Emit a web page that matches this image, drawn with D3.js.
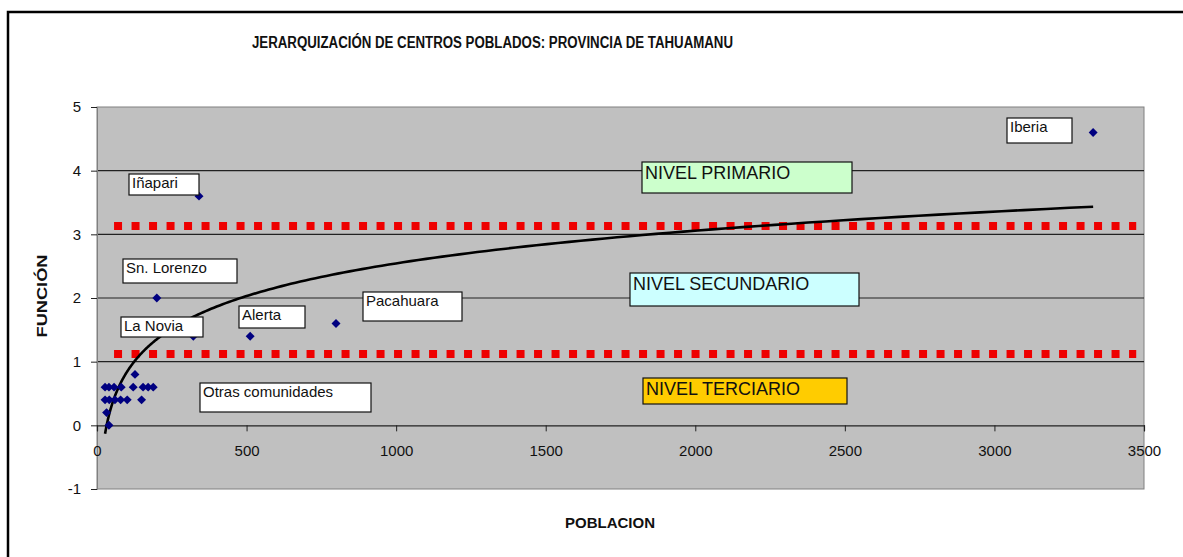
<!DOCTYPE html>
<html>
<head>
<meta charset="utf-8">
<script src="https://cdn.jsdelivr.net/npm/d3@7"></script>
<style>
  html, body { margin: 0; padding: 0; background: #fff; overflow: hidden; }
  svg { display: block; }
  text { font-family: Arial, "Liberation Sans", sans-serif; }
</style>
</head>
<body>
<svg id="chart" width="1183" height="557"></svg>
<script>
// ---------------- DATA ----------------
const title = "JERARQUIZACIÓN DE CENTROS POBLADOS: PROVINCIA DE TAHUAMANU";
const xTitle = "POBLACION";
const yTitle = "FUNCIÓN";
const xTicks = [0, 500, 1000, 1500, 2000, 2500, 3000, 3500];
const yTicks = [-1, 0, 1, 2, 3, 4, 5];

// Named population centres (population, function score)
const namedNames = ["Iberia", "Iñapari", "Sn. Lorenzo", "La Novia", "Alerta", "Pacahuara"];
const namedPob   = [3330, 341, 200, 322, 512, 799];
const namedFun   = [4.6, 3.6, 2.0, 1.4, 1.4, 1.6];

// Other communities
const otrasPob = [127, 27, 40, 57, 81, 121, 154, 171, 188, 27, 41, 60, 79, 101, 149, 32, 40];
const otrasFun = [0.8, 0.6, 0.6, 0.6, 0.6, 0.6, 0.6, 0.6, 0.6, 0.4, 0.4, 0.4, 0.4, 0.4, 0.4, 0.2, 0.0];

// Level thresholds (dotted red lines)
const levelValues = [1.12, 3.13];
const levelRange  = [57, 3474];

// Level labels
const levelNames = ["NIVEL PRIMARIO", "NIVEL SECUNDARIO", "NIVEL TERCIARIO"];

// ---------------- LAYOUT ----------------
const svg = d3.select("#chart");
const plot = { left: 97, right: 1144, top: 107, bottom: 489 };

const x = d3.scaleLinear().domain([0, 3500]).range([plot.left, plot.right]);
const y = d3.scaleLinear().domain([-1, 5]).range([plot.bottom, plot.top]);

// outer frame (right and bottom edges lie outside the picture)
svg.append("rect").attr("x", 8).attr("y", 12).attr("width", 3000).attr("height", 3000)
  .attr("fill", "#fff").attr("stroke", "#000").attr("stroke-width", 2.5);

// title
svg.append("text").attr("x", 252).attr("y", 48)
  .attr("font-size", 16).attr("font-weight", "bold").attr("fill", "#111")
  .attr("textLength", 481).attr("lengthAdjust", "spacingAndGlyphs")
  .text(title);

// plot background
svg.append("rect").attr("x", plot.left).attr("y", plot.top)
  .attr("width", plot.right - plot.left).attr("height", plot.bottom - plot.top)
  .attr("fill", "#c0c0c0").attr("stroke", "#808080").attr("stroke-width", 1);

// gridlines
svg.append("g").selectAll("line").data(yTicks.filter(v => v > 0 && v < 5)).join("line")
  .attr("x1", plot.left).attr("x2", plot.right)
  .attr("y1", d => y(d)).attr("y2", d => y(d))
  .attr("stroke", "#222").attr("stroke-width", 1.2);

const fmt = d => String(d);

// y axis (left)
const yAxis = d3.axisLeft(y).tickValues(yTicks).tickSize(6).tickPadding(10).tickFormat(fmt);
const gy = svg.append("g").attr("transform", `translate(${plot.left},0)`).call(yAxis);
gy.select(".domain").attr("stroke", "#808080");
gy.selectAll(".tick line").attr("stroke", "#222");
gy.selectAll(".tick text").attr("font-size", 15).attr("fill", "#111").attr("font-family", "Arial, 'Liberation Sans', sans-serif");

// x axis at y=0
const xAxis = d3.axisBottom(x).tickValues(xTicks).tickSize(6).tickPadding(14).tickFormat(fmt);
const gx = svg.append("g").attr("transform", `translate(0,${y(0)})`).call(xAxis);
gx.select(".domain").attr("stroke", "#222").attr("stroke-width", 1.2);
gx.selectAll(".tick line").attr("stroke", "#222");
gx.selectAll(".tick text").attr("font-size", 15).attr("fill", "#111").attr("font-family", "Arial, 'Liberation Sans', sans-serif");

// axis titles
svg.append("text").attr("x", 610).attr("y", 528).attr("text-anchor", "middle")
  .attr("font-size", 15).attr("font-weight", "bold").attr("fill", "#111")
  .attr("textLength", 90).attr("lengthAdjust", "spacingAndGlyphs").text(xTitle);
svg.append("text").attr("transform", "translate(47,296) rotate(-90)").attr("text-anchor", "middle")
  .attr("font-size", 15).attr("font-weight", "bold").attr("fill", "#111")
  .attr("textLength", 83).attr("lengthAdjust", "spacingAndGlyphs").text(yTitle);

// dotted level lines
svg.append("g").selectAll("line").data(levelValues).join("line")
  .attr("x1", x(levelRange[0])).attr("x2", x(levelRange[1]))
  .attr("y1", d => y(d)).attr("y2", d => y(d))
  .attr("stroke", "#ee0000").attr("stroke-width", 8).attr("stroke-dasharray", "8 9.5");

// logarithmic trend line (least squares fit on all points, as the spreadsheet does)
const allPob = namedPob.concat(otrasPob);
const allFun = namedFun.concat(otrasFun);
const L = allPob.map(Math.log);
const mL = d3.mean(L), mY = d3.mean(allFun);
let sxy = 0, sxx = 0;
L.forEach((l, i) => { sxy += (l - mL) * (allFun[i] - mY); sxx += (l - mL) * (l - mL); });
const slope = sxy / sxx, intercept = mY - slope * mL;
const [xmin, xmax] = d3.extent(allPob);
const trendX = d3.range(0, 201).map(i => Math.exp(Math.log(xmin) + (Math.log(xmax) - Math.log(xmin)) * i / 200));
svg.append("path")
  .datum(trendX)
  .attr("fill", "none").attr("stroke", "#000").attr("stroke-width", 2.6)
  .attr("d", d3.line().x(d => x(d)).y(d => y(slope * Math.log(d) + intercept)));

// markers
const diamond = d3.symbol().type(d3.symbolSquare).size(40);
const pts = allPob.map((p, i) => ({ p, f: allFun[i] }));
svg.append("g").selectAll("path").data(pts).join("path")
  .attr("d", diamond)
  .attr("transform", d => `translate(${x(d.p)},${y(d.f)}) rotate(45)`)
  .attr("fill", "#000080");

// annotation boxes (pixel layout)
const boxes = [
  { t: namedNames[0], x: 1007, y: 118, w: 65, h: 25, fs: 15, fill: "#fff" },
  { t: namedNames[1], x: 129, y: 174, w: 70, h: 21, fs: 15, fill: "#fff" },
  { t: namedNames[2], x: 123, y: 259, w: 114, h: 24, fs: 15, fill: "#fff" },
  { t: namedNames[3], x: 121, y: 317, w: 82, h: 20, fs: 15, fill: "#fff" },
  { t: namedNames[4], x: 239, y: 306, w: 66, h: 22, fs: 15, fill: "#fff" },
  { t: namedNames[5], x: 363, y: 292, w: 99, h: 29, fs: 15, fill: "#fff" },
  { t: "Otras comunidades", x: 200, y: 383, w: 171, h: 29, fs: 15, fill: "#fff" },
  { t: levelNames[0], x: 642, y: 162, w: 210, h: 31, fs: 18, fill: "#ccffcc" },
  { t: levelNames[1], x: 630, y: 273, w: 229, h: 33, fs: 18, fill: "#ccffff" },
  { t: levelNames[2], x: 643, y: 378, w: 204, h: 26, fs: 18, fill: "#ffcc00" }
];
const gb = svg.append("g").selectAll("g").data(boxes).join("g");
gb.append("rect").attr("x", d => d.x).attr("y", d => d.y).attr("width", d => d.w).attr("height", d => d.h)
  .attr("fill", d => d.fill).attr("stroke", "#111").attr("stroke-width", 1.2);
gb.append("text").attr("x", d => d.x + 3).attr("y", d => d.y + d.fs * 0.95)
  .attr("font-size", d => d.fs).attr("fill", "#111").text(d => d.t);
</script>
</body>
</html>
